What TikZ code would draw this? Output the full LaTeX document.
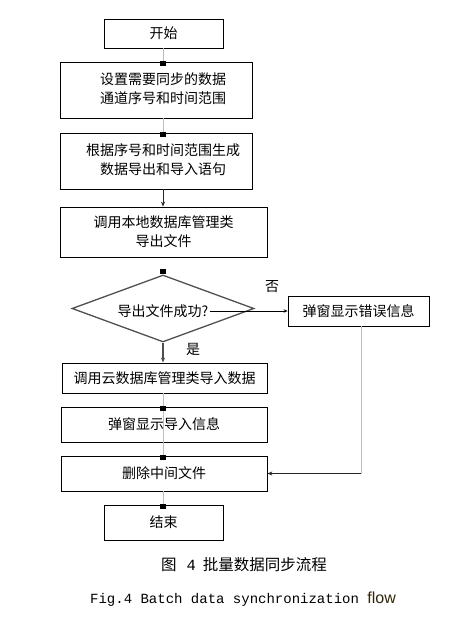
\documentclass[tikz,border=0pt]{standalone}
\usepackage{fontspec}
\setmainfont{Noto Sans CJK SC}
\setmonofont{Liberation Mono}
\newfontfamily\arialfont{Liberation Sans}
\usetikzlibrary{shapes.geometric,arrows.meta}
\definecolor{conngray}{RGB}{190,190,190}
\definecolor{diagray}{RGB}{80,80,80}
\definecolor{flowbrown}{RGB}{50,35,10}
\begin{document}
\begin{tikzpicture}[x=1pt,y=-1pt,
  box/.style={draw=black,line width=0.8pt,inner sep=0pt,align=center,font=\fontsize{14pt}{19pt}\selectfont},
  boxna/.style={draw=black,line width=0.8pt,inner sep=0pt,font=\fontsize{14pt}{19pt}\selectfont},
  conn/.style={draw=conngray,line width=0.9pt},
  darr/.style={draw=black!85,line width=0.9pt,-{Stealth[length=5pt,width=4pt]}},
  sq/.style={fill=black,minimum width=5.5pt,minimum height=4.8pt,inner sep=0pt,anchor=center},
  lbl/.style={font=\fontsize{14pt}{16pt}\selectfont,inner sep=1pt}]

\path[use as bounding box, fill=white] (0,0) rectangle (460,623);
\coordinate (col) at (163,0);

\node[boxna,minimum width=119pt,minimum height=29pt] (start) at (163.5,33.5) {开始};
\node[boxna,minimum width=192pt,minimum height=56pt] (b2) at (156,90) {\hspace*{14pt}\begin{tabular}{@{}c@{}}设置需要同步的数据\\通道序号和时间范围\end{tabular}};
\node[boxna,minimum width=192pt,minimum height=56pt] (b3) at (156,161) {\hspace*{14pt}\begin{tabular}{@{}c@{}}根据序号和时间范围生成\\数据导出和导入语句\end{tabular}};
\node[box,minimum width=207pt,minimum height=50pt] (b4) at (163.5,232) {调用本地数据库管理类\\导出文件};
\node[draw=diagray,line width=1.3pt,diamond,minimum width=182pt,minimum height=67pt,inner sep=0pt] (d) at (163,308.5) {};
\node[lbl] (dt) at (163,311) {导出文件成功?};
\node[boxna,minimum width=141pt,minimum height=30pt] (err) at (358.5,311) {弹窗显示错误信息};
\node[boxna,minimum width=205pt,minimum height=30pt] (b5) at (164.5,378) {调用云数据库管理类导入数据};
\node[boxna,minimum width=206pt,minimum height=35pt] (b6) at (164,424.5) {弹窗显示导入信息};
\node[boxna,minimum width=206pt,minimum height=35pt] (b7) at (164,473.5) {删除中间文件};
\node[boxna,minimum width=119pt,minimum height=35pt] (b8) at (163.5,522.5) {结束};
\node[lbl] (yes) at (193,349) {是};
\node[lbl] (no) at (272,287) {否};
\node[inner sep=0pt,font=\fontsize{15.5pt}{18pt}\selectfont] (cap1) at (244,565) {图\hspace{10pt}{\ttfamily 4}\hspace{7pt}批量数据同步流程};
\node[inner sep=0pt,font=\fontsize{14pt}{16pt}\selectfont] (cap2) at (243,599) {\ttfamily Fig.4 Batch data synchronization {\arialfont\color{flowbrown}\fontsize{16pt}{18pt}\selectfont flow}};

\draw[conn] (col |- start.south) -- (col |- b2.north);
\draw[conn] (col |- b2.south) -- (col |- b3.north);
\draw[darr] (col |- b3.south) -- (col |- b4.north);
\draw[darr,draw=diagray,line width=1.2pt] (d.south) -- (col |- b5.north);
\draw[conn] (col |- b5.south) -- (col |- b7.north);
\draw[conn] (col |- b7.south) -- (col |- b8.north);
\draw[draw=black,line width=0.8pt,-{Stealth[length=4pt,width=3.5pt]}] (dt.east) -- (err.west);
\draw[conn] ([xshift=2.5pt]err.south) -- ([xshift=2.5pt]err.south |- b7.east);
\draw[darr] ([xshift=2.5pt]err.south |- b7.east) -- (b7.east);

\node[sq] (s1) at ([yshift=-2pt]col |- b2.north) {};
\node[sq] (s2) at ([yshift=-2pt]col |- b3.north) {};
\node[sq] (s3) at ([yshift=3pt]d.north) {};
\node[sq] (s4) at ([yshift=-2pt]col |- b6.north) {};
\node[sq] (s5) at ([yshift=-2pt]col |- b7.north) {};
\node[sq] (s6) at ([yshift=-2pt]col |- b8.north) {};
\end{tikzpicture}
\end{document}
